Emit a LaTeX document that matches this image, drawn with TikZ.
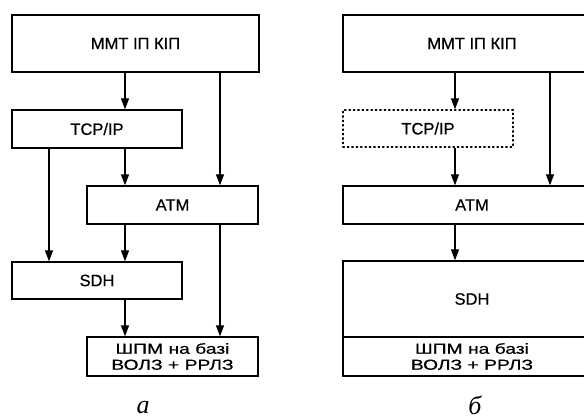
\documentclass[tikz,border=0pt]{standalone}
\usepackage{fontspec}
\setmainfont[FakeBold=0.6]{Liberation Sans}
\newfontfamily\capfont{Liberation Serif}
\usetikzlibrary{arrows.meta}
\newcommand{\widetext}[1]{\scalebox{1.33}[1]{#1}}
\tikzset{
  box/.style={draw, line width=1.3pt, inner sep=0pt, align=center,
    font=\fontsize{16.5}{15.5}\selectfont},
  widebox/.style={box, font=\fontsize{14.5}{16}\selectfont},
  dotbox/.style={box, dash pattern=on 1.4pt off 3pt, line cap=round},
  arr/.style={line width=1.2pt, -{Triangle[length=11pt,width=8pt]}},
  caplabel/.style={font=\capfont\itshape\fontsize{26}{26}\selectfont, inner sep=0pt}
}
\begin{document}
\begin{tikzpicture}[x=1pt,y=-1pt]
\useasboundingbox (0,0) rectangle (584,419);
\fill[white] (0,0) rectangle (584,419);
\clip (0,0) rectangle (584,419);
% left diagram
\node[box, minimum width=247pt, minimum height=57pt] (mmtA) at (135.5,43.5) {ММТ ІП КІП};
\node[box, minimum width=170pt, minimum height=38pt] (tcpA) at (97,129) {TCP/IP};
\node[box, minimum width=171pt, minimum height=38pt] (atmA) at (172.5,205) {ATM};
\node[box, minimum width=170pt, minimum height=37pt] (sdhA) at (97,280.5) {SDH};
\node[widebox, minimum width=171pt, minimum height=39pt] (shpmA) at (172.5,356.5) {\widetext{ШПМ на базі}\\\widetext{ВОЛЗ + РРЛЗ}};
\draw[arr] (125,0 |- mmtA.south) -- (125,0 |- tcpA.north);
\draw[arr] (220,0 |- mmtA.south) -- (220,0 |- atmA.north);
\draw[arr] (125,0 |- tcpA.south) -- (125,0 |- atmA.north);
\draw[arr] (49,0 |- tcpA.south) -- (49,0 |- sdhA.north);
\draw[arr] (125,0 |- atmA.south) -- (125,0 |- sdhA.north);
\draw[arr] (220,0 |- atmA.south) -- (220,0 |- shpmA.north);
\draw[arr] (125,0 |- sdhA.south) -- (125,0 |- shpmA.north);
\node[caplabel] (labA) at (143,408) {а};
% right diagram
\node[box, minimum width=258pt, minimum height=57pt] (mmtB) at (472,43.5) {ММТ ІП КІП};
\node[dotbox, minimum width=170pt, minimum height=37pt] (tcpB) at (428,128.5) {TCP/IP};
\node[box, minimum width=258pt, minimum height=38pt] (atmB) at (472,205) {ATM};
\node[box, minimum width=258pt, minimum height=76pt] (sdhB) at (472,299) {SDH};
\node[widebox, minimum width=258pt, minimum height=39pt] (shpmB) at (472,356.5) {\widetext{ШПМ на базі}\\\widetext{ВОЛЗ + РРЛЗ}};
\draw[arr] (455,0 |- mmtB.south) -- (455,0 |- tcpB.north);
\draw[arr] (550,0 |- mmtB.south) -- (550,0 |- atmB.north);
\draw[arr] (455,0 |- tcpB.south) -- (455,0 |- atmB.north);
\draw[arr] (455,0 |- atmB.south) -- (455,0 |- sdhB.north);
\node[caplabel] (labB) at (475,405) {б};
\end{tikzpicture}
\end{document}
